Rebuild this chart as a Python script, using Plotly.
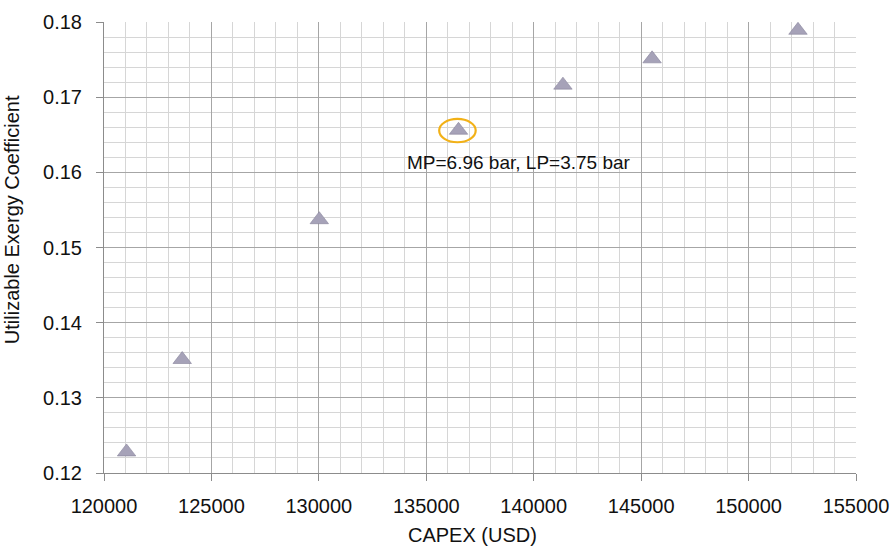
import plotly.graph_objects as go

# CAPEX vs utilizable exergy coefficient for the pressure-level cases
capex_usd = [121050, 123640, 130020, 136500, 141360, 145510, 152300]
exergy_coeff = [0.1228, 0.1351, 0.1537, 0.1656, 0.1716, 0.1751, 0.1789]

# highlighted design point
highlight_index = 3
highlight_label = "MP=6.96 bar, LP=3.75 bar"

x_ticks = [120000, 125000, 130000, 135000, 140000, 145000, 150000, 155000]
y_ticks = [0.12, 0.13, 0.14, 0.15, 0.16, 0.17, 0.18]

FONT = "Arial, Liberation Sans, sans-serif"

fig = go.Figure()
fig.add_trace(go.Scatter(
    x=capex_usd, y=exergy_coeff, mode="markers",
    marker=dict(symbol="triangle-up", size=16, color="#a6a2b8",
                line=dict(color="#86839a", width=0.6)),
    showlegend=False, hoverinfo="x+y",
))

hx = capex_usd[highlight_index]
hy = exergy_coeff[highlight_index]
# gold ellipse around the highlighted point
fig.add_shape(type="circle", xref="x", yref="y",
              x0=hx - 900, x1=hx + 800, y0=hy - 0.00160, y1=hy + 0.00150,
              line=dict(color="#f2b117", width=2.2), fillcolor="rgba(0,0,0,0)")
fig.add_annotation(x=hx + 2800, y=hy - 0.0043, text=highlight_label,
                   showarrow=False, xanchor="center", yanchor="middle",
                   font=dict(family=FONT, size=19, color="#111111"))

# axis titles
fig.add_annotation(xref="paper", yref="paper", x=0.49, y=-0.1375,
                   text="CAPEX (USD)", showarrow=False,
                   xanchor="center", yanchor="middle",
                   font=dict(family=FONT, size=20, color="#111111"))
fig.add_annotation(xref="paper", yref="y", x=-0.123, y=0.1537,
                   text="Utilizable Exergy Coefficient", showarrow=False,
                   textangle=-90, xanchor="center", yanchor="middle",
                   font=dict(family=FONT, size=20, color="#111111"))

axis_common = dict(
    showline=True, linecolor="#8c8c8c", linewidth=1,
    ticks="outside", ticklen=7, tickcolor="#8c8c8c", tickwidth=1,
    showgrid=True, gridcolor="#a6a6a6", gridwidth=1,
    zeroline=False, automargin=False,
    tickfont=dict(family=FONT, size=20, color="#111111"),
)

fig.update_xaxes(
    range=[120000, 155000], tickvals=x_ticks,
    ticktext=[str(v) for v in x_ticks],
    minor=dict(dtick=1000, tick0=120000, showgrid=True,
               gridcolor="#d6d6d6", gridwidth=1, ticks=""),
    ticklabelstandoff=8,
    **axis_common,
)
fig.update_yaxes(
    range=[0.12, 0.18], tickvals=y_ticks,
    ticktext=[f"{v:.2f}" for v in y_ticks],
    minor=dict(dtick=0.002, tick0=0.12, showgrid=True,
               gridcolor="#d6d6d6", gridwidth=1, ticks=""),
    ticklabelstandoff=10,
    **axis_common,
)

fig.update_layout(
    width=895, height=547,
    margin=dict(l=104, r=39, t=22, b=74, autoexpand=False),
    plot_bgcolor="white", paper_bgcolor="white",
    font=dict(family=FONT, color="#111111"),
)

fig.write_html("out.html")
